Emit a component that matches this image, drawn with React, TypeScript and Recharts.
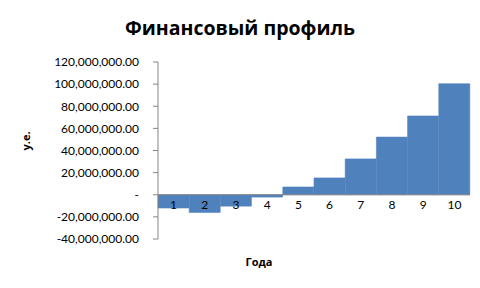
import { Bar, BarChart, Label, ReferenceLine, XAxis, YAxis } from 'recharts';

const years = ['1', '2', '3', '4', '5', '6', '7', '8', '9', '10'];
const profile = [-12000000, -16000000, -10300000, -2100000, 7000000, 15200000, 32400000, 52100000, 71200000, 100300000];
const yTicks = [-40000000, -20000000, 0, 20000000, 40000000, 60000000, 80000000, 100000000, 120000000];

const data = years.map((year, i) => ({ year, value: profile[i] }));

const font = 'Lato, "Open Sans", sans-serif';

const money = (v: number) =>
  v === 0 ? '-' : v.toLocaleString('en-US', { minimumFractionDigits: 2, maximumFractionDigits: 2 });

// category labels sit just under the zero line, not at the bottom of the plot
function YearTick({ x, y, payload }: any) {
  return (
    <text x={x} y={y - 41} textAnchor="middle" dominantBaseline="middle" fontSize={12} fontFamily={font} fill="#000">
      {payload.value}
    </text>
  );
}

export default function App() {
  return (
    <div style={{ position: 'absolute', left: 0, top: 0, width: 480, height: 288, background: '#fff' }}>
      <div
        style={{
          position: 'absolute', left: 0, top: 15, width: 480, textAlign: 'center',
          fontFamily: '"Open Sans", sans-serif', fontWeight: 700, fontSize: 19.5, lineHeight: '26px',
        }}
      >
        Финансовый профиль
      </div>
      <BarChart width={480} height={288} data={data} barCategoryGap={0} margin={{ top: 62, right: 10, bottom: 29, left: 0 }}>
        <XAxis dataKey="year" axisLine={false} tickLine={false} tick={<YearTick />} height={20} interval={0} />
        <YAxis
          domain={[-40000000, 120000000]}
          ticks={yTicks}
          tickFormatter={money}
          width={158}
          tickSize={5}
          tickMargin={14}
          axisLine={{ stroke: '#868686' }}
          tickLine={{ stroke: '#868686' }}
          tick={{ fontSize: 12, fontFamily: font, fill: '#000' }}
          interval={0}
        >
          <Label value="у.е." angle={-90} position="insideLeft" offset={26} style={{ fontSize: 11, fontWeight: 700, fontFamily: '"Open Sans", sans-serif', fill: '#000' }} />
        </YAxis>
        <Bar dataKey="value" fill="#4F81BD" stroke="#4F81BD" strokeWidth={0.6} isAnimationActive={false} />
        <ReferenceLine y={0} stroke="#868686" />
      </BarChart>
      <div
        style={{
          position: 'absolute', left: 230, top: 254, width: 58, textAlign: 'center',
          fontFamily: '"Open Sans", sans-serif', fontWeight: 700, fontSize: 11,
        }}
      >
        Года
      </div>
    </div>
  );
}
